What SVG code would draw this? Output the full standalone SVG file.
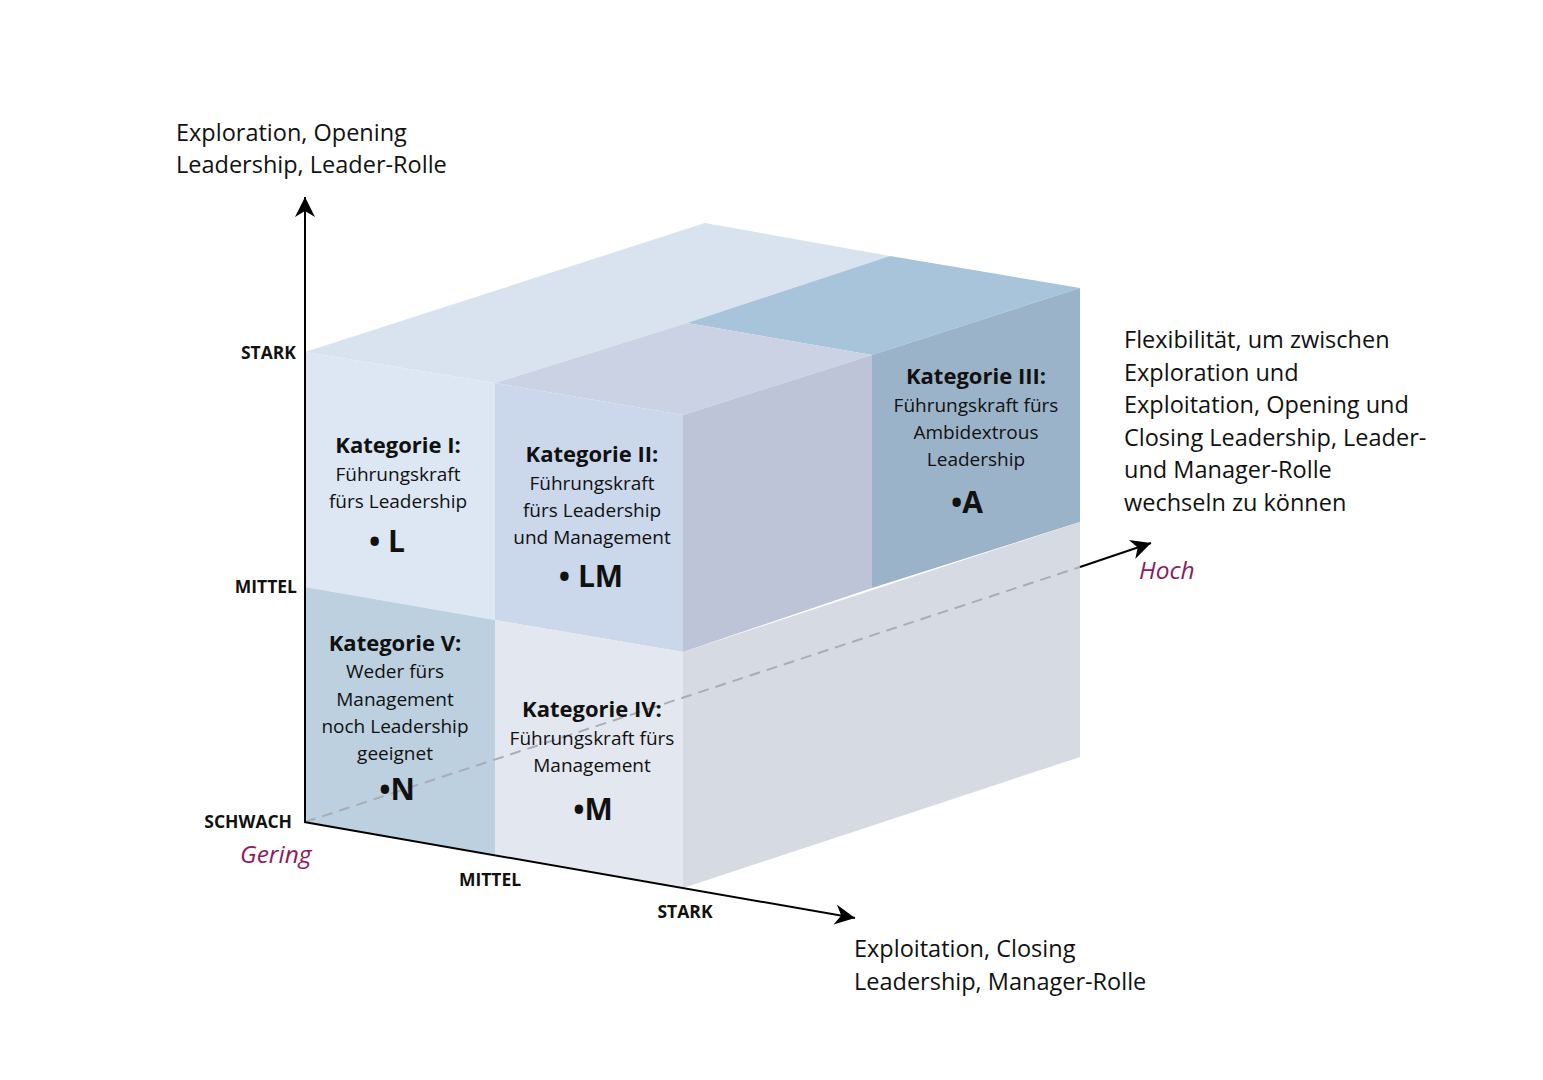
<svg xmlns="http://www.w3.org/2000/svg" width="1543" height="1080" viewBox="0 0 1543 1080">
<style>
text{font-family:"Open Sans","Noto Sans","Liberation Sans",sans-serif;fill:#111}
.lab{font-size:23.5px}
.ax{font-size:17.5px;font-weight:700}
.hd{font-size:22px;font-weight:700;text-anchor:middle}
.bd{font-size:19px;text-anchor:middle}
.mk{font-size:30px;font-weight:700;text-anchor:middle}
.it{font-size:24.5px;font-style:italic;fill:#8e1b5e}
.axis{stroke:#000;stroke-width:2;fill:none}
.dash{stroke:#a9adb5;stroke-width:2;fill:none;stroke-dasharray:11 7}
</style>
<defs>
<marker id="ah" markerUnits="userSpaceOnUse" markerWidth="24" markerHeight="24" viewBox="-22 -12 24 24" refX="0" refY="0" orient="auto">
<path d="M0,0 L-20,-10 L-14,0 L-20,10 Z" fill="#000"/>
</marker>
</defs>
<rect width="1543" height="1080" fill="#fff"/>

<g id="cube">
<polygon points="305,352 705,223 890,256 687,323 495,383" fill="#d8e3ef"/>
<polygon points="687,323 890,256 1080,288 872,355" fill="#a8c4da"/>
<polygon points="495,383 687,323 872,355 683,415" fill="#cbd2e4"/>
<polygon points="683,415 872,355 872,588 683,652" fill="#bdc4d8"/>
<polygon points="872,355 1080,288 1080,522 872,588" fill="#9bb3c9"/>
<polygon points="683,652 1080,522 1080,757 683,888" fill="#d6dae2"/>
</g>

<g id="kategorie-1">
<polygon points="305,352 495,383 495,620 305,587" fill="#dce7f3"/>
</g>
<g id="kategorie-2">
<polygon points="495,383 683,415 683,652 495,620" fill="#cbd7eb"/>
</g>
<g id="kategorie-5">
<polygon points="305,587 495,620 495,855 305,822" fill="#bcd0e0"/>
</g>
<g id="kategorie-4">
<polygon points="495,620 683,652 683,888 495,855" fill="#e3e7ef"/>
</g>

<g id="connectors">
<line class="dash" x1="305" y1="822" x2="1080" y2="567"/>
<line class="axis" x1="304" y1="822" x2="855" y2="918" marker-end="url(#ah)"/>
<line class="axis" x1="305" y1="823" x2="305" y2="197" marker-end="url(#ah)"/>
<line class="axis" x1="1080" y1="567" x2="1151" y2="543" marker-end="url(#ah)"/>
</g>

<g id="kategorie-1-text">
<text class="hd" x="398" y="453">Kategorie I:</text>
<text class="bd" x="398" y="481">Führungskraft</text>
<text class="bd" x="398" y="508">fürs Leadership</text>
<text class="mk" x="387" y="552">• L</text>
</g>
<g id="kategorie-2-text">
<text class="hd" x="592" y="462">Kategorie II:</text>
<text class="bd" x="592" y="490">Führungskraft</text>
<text class="bd" x="592" y="517">fürs Leadership</text>
<text class="bd" x="592" y="544">und Management</text>
<text class="mk" x="591" y="587">• LM</text>
</g>
<g id="kategorie-3">
<text class="hd" x="976" y="384">Kategorie III:</text>
<text class="bd" x="976" y="412">Führungskraft fürs</text>
<text class="bd" x="976" y="439">Ambidextrous</text>
<text class="bd" x="976" y="466">Leadership</text>
<text class="mk" x="967" y="513">•A</text>
</g>
<g id="kategorie-5-text">
<text class="hd" x="395" y="651">Kategorie V:</text>
<text class="bd" x="395" y="678">Weder fürs</text>
<text class="bd" x="395" y="706">Management</text>
<text class="bd" x="395" y="733">noch Leadership</text>
<text class="bd" x="395" y="760">geeignet</text>
<text class="mk" x="397" y="800">•N</text>
</g>
<g id="kategorie-4-text">
<text class="hd" x="592" y="717">Kategorie IV:</text>
<text class="bd" x="592" y="745">Führungskraft fürs</text>
<text class="bd" x="592" y="772">Management</text>
<text class="mk" x="593" y="820">•M</text>
</g>

<g id="axis-labels">
<text class="ax" x="296" y="359" text-anchor="end">STARK</text>
<text class="ax" x="297" y="593" text-anchor="end">MITTEL</text>
<text class="ax" x="292" y="828" text-anchor="end">SCHWACH</text>
<text class="ax" x="490" y="886" text-anchor="middle">MITTEL</text>
<text class="ax" x="685" y="918" text-anchor="middle">STARK</text>
<text class="it" x="240" y="863">Gering</text>
<text class="it" x="1139" y="579">Hoch</text>
</g>

<g id="y-axis-label">
<text class="lab" x="176" y="141">Exploration, Opening</text>
<text class="lab" x="176" y="173">Leadership, Leader-Rolle</text>
</g>
<g id="x-axis-label">
<text class="lab" x="854" y="957">Exploitation, Closing</text>
<text class="lab" x="854" y="990">Leadership, Manager-Rolle</text>
</g>
<g id="z-axis-label">
<text class="lab" x="1124" y="348">Flexibilität, um zwischen</text>
<text class="lab" x="1124" y="381">Exploration und</text>
<text class="lab" x="1124" y="413">Exploitation, Opening und</text>
<text class="lab" x="1124" y="446">Closing Leadership, Leader-</text>
<text class="lab" x="1124" y="478">und Manager-Rolle</text>
<text class="lab" x="1124" y="511">wechseln zu können</text>
</g>
</svg>
